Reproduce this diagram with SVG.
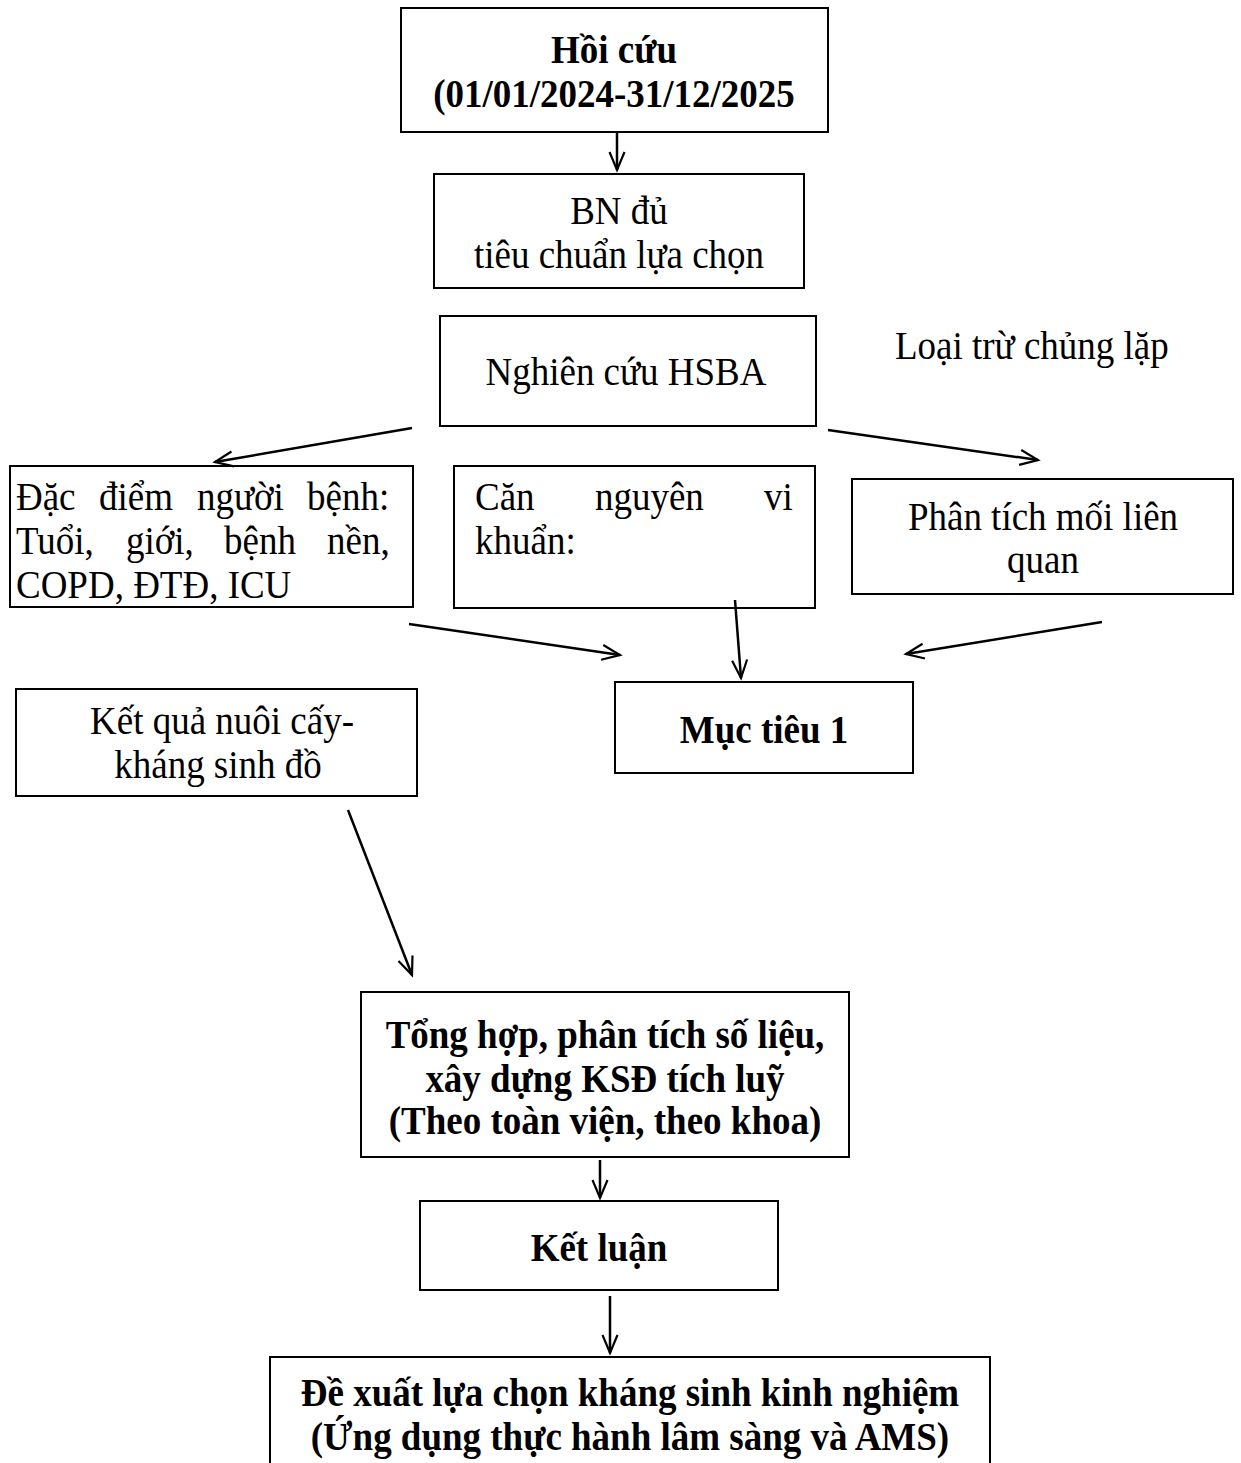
<svg xmlns="http://www.w3.org/2000/svg" width="1241" height="1463" viewBox="0 0 1241 1463">
<style>
.box{fill:#fff;stroke:#000;stroke-width:2}
.t{font-family:"Liberation Serif","Times New Roman",serif;font-size:37px;fill:#000;transform-box:fill-box;transform-origin:center;transform:scaleY(1.1)}
.b{font-weight:bold}
.c{text-anchor:middle}
.e{text-anchor:end}
.con line{stroke:#000;stroke-width:2.5;marker-end:url(#ah)}
</style>
<defs>
<marker id="ah" markerWidth="22" markerHeight="18" refX="19" refY="9" orient="auto" markerUnits="userSpaceOnUse">
<path d="M1,1.5 L19,9 L1,16.5" fill="none" stroke="#000" stroke-width="2.2"/>
</marker>
<clipPath id="clipD"><rect x="10" y="466" width="403" height="141"/></clipPath>
</defs>
<rect width="1241" height="1463" fill="#fff"/>

<g id="n-hoicuu">
<rect class="box" x="401" y="8" width="427" height="124"/>
<text class="t b c" x="614" y="62">Hồi cứu</text>
<text class="t b c" x="614" y="106">(01/01/2024-31/12/2025</text>
</g>

<g id="n-bn">
<rect class="box" x="434" y="174" width="370" height="114"/>
<text class="t c" x="619" y="223">BN đủ</text>
<text class="t c" x="619" y="267">tiêu chuẩn lựa chọn</text>
</g>

<g id="n-hsba">
<rect class="box" x="440" y="316" width="376" height="110"/>
<text class="t c" x="626" y="384">Nghiên cứu HSBA</text>
</g>

<g id="n-loaitru">
<text class="t" x="895" y="358">Loại trừ chủng lặp</text>
</g>

<g id="n-dacdiem">
<rect class="box" x="10" y="466" width="403" height="141"/>
<g clip-path="url(#clipD)">
<text class="t" y="509"><tspan x="16">Đặc</tspan><tspan x="99">điểm</tspan><tspan x="197">người</tspan><tspan x="307">bệnh:</tspan></text>
<text class="t" y="553"><tspan x="16">Tuổi,</tspan><tspan x="126">giới,</tspan><tspan x="224">bệnh</tspan><tspan x="327">nền,</tspan></text>
<text class="t" x="16" y="597">COPD, ĐTĐ, ICU</text>
</g>
</g>

<g id="n-cannguyen">
<rect class="box" x="454" y="466" width="361" height="142"/>
<text class="t" y="509"><tspan x="475">Căn</tspan><tspan x="595">nguyên</tspan><tspan x="764">vi</tspan></text>
<text class="t" x="475" y="553">khuẩn:</text>
</g>

<g id="n-phantich">
<rect class="box" x="852" y="479" width="381" height="115"/>
<text class="t c" x="1043" y="529">Phân tích mối liên</text>
<text class="t c" x="1043" y="572">quan</text>
</g>

<g id="n-muctieu">
<rect class="box" x="615" y="682" width="298" height="91"/>
<text class="t b c" x="764" y="742">Mục tiêu 1</text>
</g>

<g id="n-ketqua">
<rect class="box" x="16" y="689" width="401" height="107"/>
<text class="t c" x="222" y="733">Kết quả nuôi cấy-</text>
<text class="t c" x="218" y="777">kháng sinh đồ</text>
</g>

<g id="n-tonghop">
<rect class="box" x="361" y="992" width="488" height="165"/>
<text class="t b c" x="605" y="1047">Tổng hợp, phân tích số liệu,</text>
<text class="t b c" x="605" y="1091">xây dựng KSĐ tích luỹ</text>
<text class="t b c" x="605" y="1133">(Theo toàn viện, theo khoa)</text>
</g>

<g id="n-ketluan">
<rect class="box" x="420" y="1201" width="358" height="89"/>
<text class="t b c" x="599" y="1260">Kết luận</text>
</g>

<g id="n-dexuat">
<rect class="box" x="270" y="1357" width="720" height="120"/>
<text class="t b c" x="630" y="1405">Đề xuất lựa chọn kháng sinh kinh nghiệm</text>
<text class="t b c" x="630" y="1449">(Ứng dụng thực hành lâm sàng và AMS)</text>
</g>

<g id="connectors" class="con">
<line x1="617" y1="132" x2="617" y2="170"/>
<line x1="412" y1="428" x2="215" y2="462"/>
<line x1="828" y1="430" x2="1038" y2="460"/>
<line x1="409" y1="624" x2="620" y2="655"/>
<line x1="735" y1="600" x2="741" y2="678"/>
<line x1="1102" y1="622" x2="906" y2="654"/>
<line x1="348" y1="810" x2="412" y2="975"/>
<line x1="600" y1="1160" x2="600" y2="1198"/>
<line x1="610" y1="1296" x2="610" y2="1353"/>
</g>
</svg>
